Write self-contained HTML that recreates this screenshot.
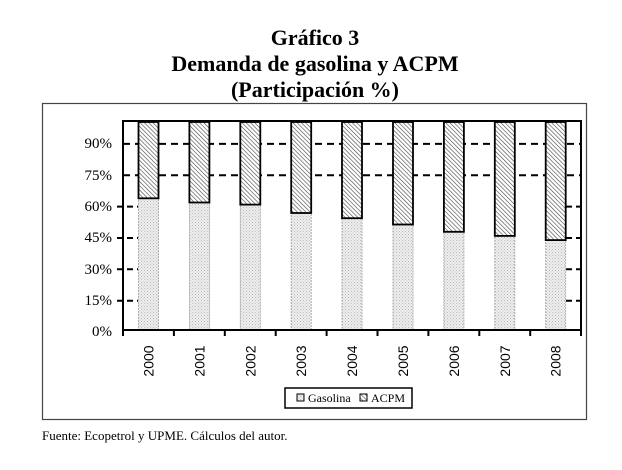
<!DOCTYPE html>
<html><head><meta charset="utf-8"><style>
body{margin:0;background:#fff;}
</style></head><body>
<svg width="622" height="465" xmlns="http://www.w3.org/2000/svg" font-family="Liberation Serif, serif">
<defs>
<pattern id="h" width="3" height="3" patternUnits="userSpaceOnUse" patternTransform="rotate(-45)">
<rect width="3" height="3" fill="#fff"/><line x1="0" y1="0" x2="0" y2="3" stroke="#444" stroke-width="1.2"/></pattern>
<pattern id="d" width="3" height="3" patternUnits="userSpaceOnUse">
<rect width="3" height="3" fill="#eee"/><rect x="0" y="0" width="1" height="1" fill="#bbb"/><rect x="1.5" y="1.5" width="1" height="1" fill="#c8c8c8"/></pattern>
</defs>
<rect width="622" height="465" fill="#fff"/>
<g font-weight="bold" font-size="22" text-anchor="middle" fill="#000">
<text x="315" y="45">Gráfico 3</text>
<text x="315" y="71">Demanda de gasolina y ACPM</text>
<text x="315" y="97">(Participación %)</text>
</g>
<rect x="42.5" y="103.5" width="544" height="316" fill="#fff" stroke="#444" stroke-width="1.2"/>
<g stroke="#000" stroke-width="2" stroke-dasharray="7,5">
<line x1="123" y1="143.9" x2="581" y2="143.9"/>
<line x1="123" y1="175.3" x2="581" y2="175.3"/>
</g>
<g stroke="#000" stroke-width="2" stroke-dasharray="6,4">
<line x1="117" y1="206.6" x2="138" y2="206.6"/><line x1="566" y1="206.6" x2="581" y2="206.6"/>
<line x1="117" y1="238" x2="138" y2="238"/><line x1="566" y1="238" x2="581" y2="238"/>
<line x1="117" y1="269.3" x2="138" y2="269.3"/><line x1="566" y1="269.3" x2="581" y2="269.3"/>
<line x1="117" y1="300.7" x2="138" y2="300.7"/><line x1="566" y1="300.7" x2="581" y2="300.7"/>
</g>
<g font-size="15" text-anchor="end" fill="#000">
<text x="112" y="148">90%</text><text x="112" y="180">75%</text><text x="112" y="211">60%</text>
<text x="112" y="242">45%</text><text x="112" y="274">30%</text><text x="112" y="305">15%</text><text x="112" y="336">0%</text>
</g>
<g stroke="#999" stroke-width="0.8" stroke-dasharray="2,1" fill="url(#d)">
<rect x="138.5" y="198.3" width="20" height="131.7"/>
<rect x="189.4" y="202.5" width="20" height="127.5"/>
<rect x="240.3" y="204.6" width="20" height="125.4"/>
<rect x="291.2" y="213" width="20" height="117"/>
<rect x="342" y="218.2" width="20" height="111.8"/>
<rect x="393" y="224.5" width="20" height="105.5"/>
<rect x="443.9" y="231.8" width="20" height="98.2"/>
<rect x="494.8" y="235.9" width="20" height="94.1"/>
<rect x="545.7" y="240.1" width="20" height="89.9"/>
</g>
<g stroke="#000" stroke-width="1.8" fill="url(#h)">
<rect x="138.5" y="122" width="20" height="76.3"/>
<rect x="189.4" y="122" width="20" height="80.5"/>
<rect x="240.3" y="122" width="20" height="82.6"/>
<rect x="291.2" y="122" width="20" height="91"/>
<rect x="342" y="122" width="20" height="96.2"/>
<rect x="393" y="122" width="20" height="102.5"/>
<rect x="443.9" y="122" width="20" height="109.8"/>
<rect x="494.8" y="122" width="20" height="113.9"/>
<rect x="545.7" y="122" width="20" height="118.1"/>
</g>
<rect x="123" y="121" width="458" height="209" fill="none" stroke="#000" stroke-width="2"/>
<g stroke="#000" stroke-width="2">
<line x1="123" y1="330" x2="123" y2="336"/><line x1="173.9" y1="330" x2="173.9" y2="336"/>
<line x1="224.8" y1="330" x2="224.8" y2="336"/><line x1="275.7" y1="330" x2="275.7" y2="336"/>
<line x1="326.6" y1="330" x2="326.6" y2="336"/><line x1="377.5" y1="330" x2="377.5" y2="336"/>
<line x1="428.4" y1="330" x2="428.4" y2="336"/><line x1="479.3" y1="330" x2="479.3" y2="336"/>
<line x1="530.2" y1="330" x2="530.2" y2="336"/><line x1="581" y1="330" x2="581" y2="336"/>
</g>
<g font-family="Liberation Sans, sans-serif" font-size="14" text-anchor="middle" fill="#000">
<text transform="translate(153.5,361) rotate(-90)">2000</text>
<text transform="translate(204.4,361) rotate(-90)">2001</text>
<text transform="translate(255.3,361) rotate(-90)">2002</text>
<text transform="translate(306.2,361) rotate(-90)">2003</text>
<text transform="translate(357,361) rotate(-90)">2004</text>
<text transform="translate(408,361) rotate(-90)">2005</text>
<text transform="translate(458.9,361) rotate(-90)">2006</text>
<text transform="translate(509.8,361) rotate(-90)">2007</text>
<text transform="translate(560.7,361) rotate(-90)">2008</text>
</g>
<rect x="285" y="388" width="127" height="20" fill="#fff" stroke="#000" stroke-width="1.5"/>
<rect x="297" y="394" width="7" height="7" fill="url(#d)" stroke="#000"/>
<text x="308" y="402" font-size="12">Gasolina</text>
<rect x="360" y="394" width="7" height="7" fill="url(#h)" stroke="#000"/>
<text x="371" y="402" font-size="12">ACPM</text>
<text x="42" y="440" font-size="13">Fuente: Ecopetrol y UPME. Cálculos del autor.</text>
</svg>
</body></html>
